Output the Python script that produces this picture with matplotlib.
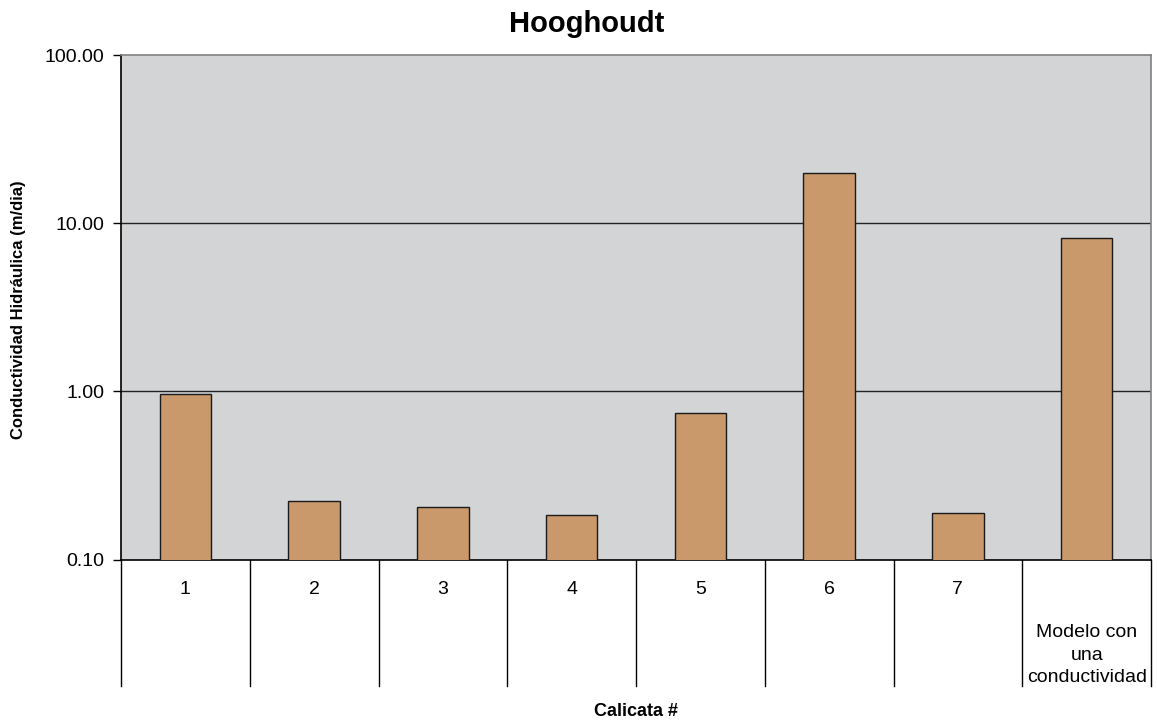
import matplotlib
matplotlib.use("Agg")
import matplotlib.pyplot as plt
import matplotlib.transforms as mtransforms
from matplotlib.ticker import FixedLocator, FuncFormatter, NullLocator

plt.rcParams['font.family'] = ['Liberation Sans', 'DejaVu Sans']

categories = ["1", "2", "3", "4", "5", "6", "7", "Modelo con\nuna\nconductividad"]
conductivity = [0.97, 0.224, 0.204, 0.185, 0.745, 20.0, 0.188, 8.15]
y_ticks = [0.1, 1, 10, 100]

W, H = 1157, 724
fig = plt.figure(figsize=(W / 100, H / 100), dpi=100)
left, right, top, bottom = 121, 1151, 55, 559.5
ax = fig.add_axes([left / W, 1 - bottom / H, (right - left) / W, (bottom - top) / H])

ax.set_facecolor('#D3D4D6')
ax.set_yscale('log')
x = list(range(len(categories)))
ax.bar(x, conductivity, width=0.4, color='#C9996B',
       edgecolor='#1a1a1a', linewidth=1.0, zorder=3)

ax.set_ylim(0.1, 100)
ax.set_xlim(-0.5, len(categories) - 0.5)
ax.yaxis.set_major_locator(FixedLocator(y_ticks))
ax.yaxis.set_minor_locator(NullLocator())
ax.yaxis.set_major_formatter(FuncFormatter(lambda v, p: f"{v:.2f}"))
ax.tick_params(axis='y', which='major', direction='out', length=6, width=1,
               labelsize=14, pad=6, color='black')
ax.set_xticks([])

for yv in [1, 10]:
    ax.axhline(yv, color='#222222', linewidth=1.0, zorder=2)

for s in ['top', 'right']:
    ax.spines[s].set_color('#808080')
    ax.spines[s].set_linewidth(1.2)
for s in ['left', 'bottom']:
    ax.spines[s].set_color('black')
    ax.spines[s].set_linewidth(1.2)

trans = mtransforms.blended_transform_factory(ax.transData, ax.transAxes)
sep_bottom = -(686 - bottom) / (bottom - top)
for i in range(len(categories) + 1):
    ax.plot([i - 0.5, i - 0.5], [0, sep_bottom], transform=trans, color='black',
            linewidth=1.0, clip_on=False, zorder=4)

for i, lab in enumerate(categories):
    if "\n" in lab:
        py = 655
    else:
        py = 589
    ax.text(i, -(py - bottom) / (bottom - top), lab, transform=trans,
            ha='center', va='center', fontsize=14, linespacing=1.45)

fig.text(587 / W, 1 - 24 / H, "Hooghoudt", ha='center', va='center',
         fontsize=21, fontweight='bold')
fig.text(636 / W, 1 - 712 / H, "Calicata #", ha='center', va='center',
         fontsize=13, fontweight='bold')
fig.text(19 / W, 1 - 310 / H, "Conductividad Hidráulica (m/dia)", ha='center',
         va='center', rotation=90, fontsize=12, fontweight='bold')

fig.savefig("out.png", dpi=100)
